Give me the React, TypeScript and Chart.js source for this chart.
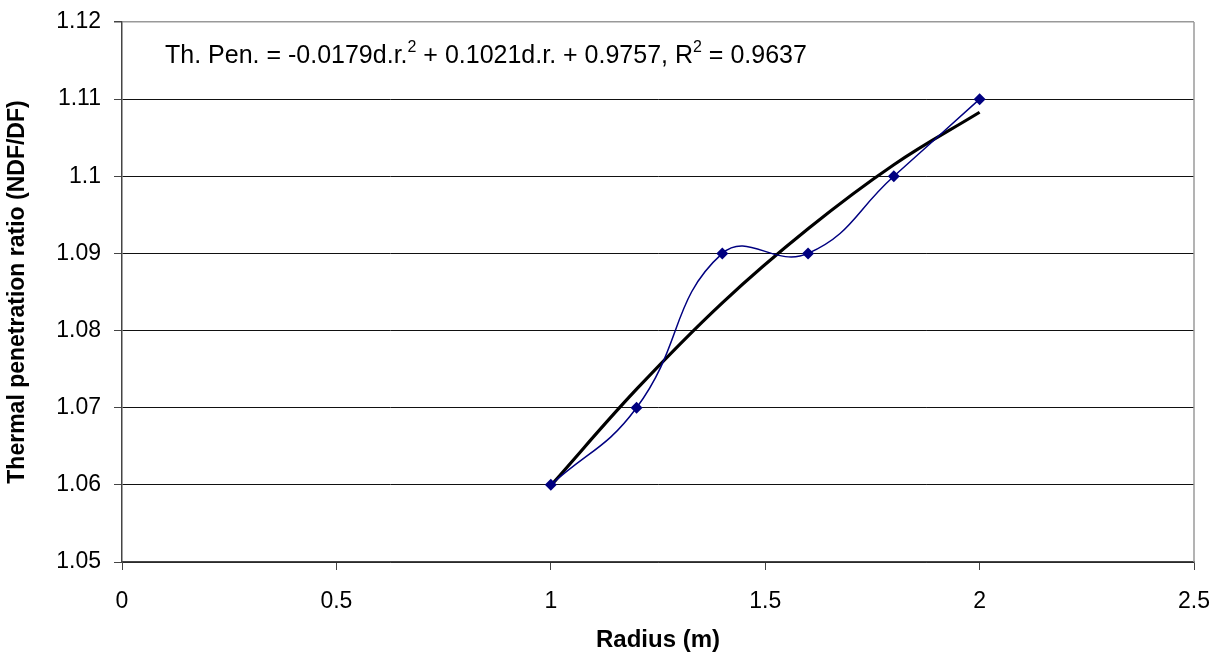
import React, { useEffect, useRef } from "react";
import { Chart, registerables } from "chart.js";

Chart.register(...registerables);

const radius = [1, 1.2, 1.4, 1.6, 1.8, 2];
const ratio = [1.06, 1.07, 1.09, 1.09, 1.1, 1.11];
const trendX = [1, 1.2, 1.4, 1.6, 1.8, 2];
const trendY = [1.0599, 1.0724, 1.0836, 1.0932, 1.1015, 1.1083];
const xTicks = [0, 0.5, 1, 1.5, 2, 2.5];
const yTicks = [1.05, 1.06, 1.07, 1.08, 1.09, 1.1, 1.11, 1.12];

const FONT = "'Liberation Sans', Arial, sans-serif";

const annotationPlugin = {
  id: "annot",
  afterDraw(chart: any) {
    const ctx = chart.ctx;
    const { top, right, bottom } = chart.chartArea;
    ctx.save();
    ctx.strokeStyle = "#9a9a9a";
    ctx.lineWidth = 1.5;
    ctx.beginPath();
    ctx.moveTo(right, top);
    ctx.lineTo(right, bottom);
    ctx.stroke();
    const parts: [string, boolean][] = [
      ["Th. Pen. = -0.0179d.r.", false],
      ["2", true],
      [" + 0.1021d.r. + 0.9757, R", false],
      ["2", true],
      [" = 0.9637", false],
    ];
    let x = 165;
    const y = 63;
    ctx.fillStyle = "#000";
    ctx.textBaseline = "alphabetic";
    for (const [t, sup] of parts) {
      ctx.font = sup ? `16px ${FONT}` : `25px ${FONT}`;
      ctx.fillText(t, x, sup ? y - 11 : y);
      x += ctx.measureText(t).width;
    }
    ctx.restore();
  },
};

export default function App() {
  const ref = useRef<HTMLCanvasElement>(null);
  useEffect(() => {
    document.body.style.margin = "0";
    const chart = new Chart(ref.current as HTMLCanvasElement, {
      type: "scatter",
      data: {
        datasets: [
          {
            label: "trend",
            data: trendX.map((x, i) => ({ x, y: trendY[i] })),
            showLine: true,
            borderColor: "#000",
            borderWidth: 3.2,
            pointRadius: 0,
            tension: 0.4,
            order: 2,
          },
          {
            label: "data",
            data: radius.map((x, i) => ({ x, y: ratio[i] })),
            showLine: true,
            borderColor: "#000080",
            backgroundColor: "#000080",
            borderWidth: 1.5,
            pointStyle: "rectRot",
            pointRadius: 6,
            pointBorderWidth: 0,
            tension: 0.45,
            order: 1,
          },
        ],
      },
      options: {
        animation: false,
        responsive: false,
        layout: { padding: { left: 0, top: 22, right: 22, bottom: 0 } },
        plugins: { legend: { display: false }, tooltip: { enabled: false } },
        scales: {
          x: {
            type: "linear",
            min: 0,
            max: 2.5,
            afterBuildTicks: (s: any) => {
              s.ticks = xTicks.map((v) => ({ value: v }));
            },
            afterFit: (s: any) => {
              s.height = 95;
              s.paddingLeft = 0;
              s.paddingRight = 0;
            },
            ticks: {
              color: "#000",
              font: { family: FONT, size: 23 },
              padding: 18,
              maxRotation: 0,
              callback: (v: any) => String(v),
            },
            grid: {
              drawOnChartArea: false,
              drawTicks: true,
              tickLength: 8,
              color: "#444",
            },
            border: { color: "#444", width: 1.5 },
            title: {
              display: true,
              text: "Radius (m)",
              color: "#000",
              font: { family: FONT, size: 24, weight: "bold" },
              padding: { top: 4, bottom: 2 },
            },
          },
          y: {
            type: "linear",
            min: 1.05,
            max: 1.12,
            afterBuildTicks: (s: any) => {
              s.ticks = yTicks.map((v) => ({ value: v }));
            },
            afterFit: (s: any) => {
              s.width = 122;
              s.paddingTop = 0;
              s.paddingBottom = 0;
            },
            ticks: {
              color: "#000",
              font: { family: FONT, size: 23 },
              padding: 13,
              callback: (v: any) => String(Math.round(v * 100) / 100),
            },
            grid: {
              color: (c: any) => (c.tick && Math.abs(c.tick.value - 1.12) < 1e-6 ? "#999" : "#111"),
              lineWidth: (c: any) => (c.tick && Math.abs(c.tick.value - 1.12) < 1e-6 ? 1.5 : 1),
              drawTicks: true,
              tickLength: 8,
              tickColor: "#444",
            },
            border: { color: "#444", width: 1.5 },
            title: {
              display: true,
              text: "Thermal penetration ratio (NDF/DF)",
              color: "#000",
              font: { family: FONT, size: 23, weight: "bold" },
              padding: { top: 4, bottom: 4 },
            },
          },
        },
      },
      plugins: [annotationPlugin],
    } as any);
    return () => chart.destroy();
  }, []);
  return <canvas ref={ref} width={1216} height={657} style={{ display: "block" }} />;
}
